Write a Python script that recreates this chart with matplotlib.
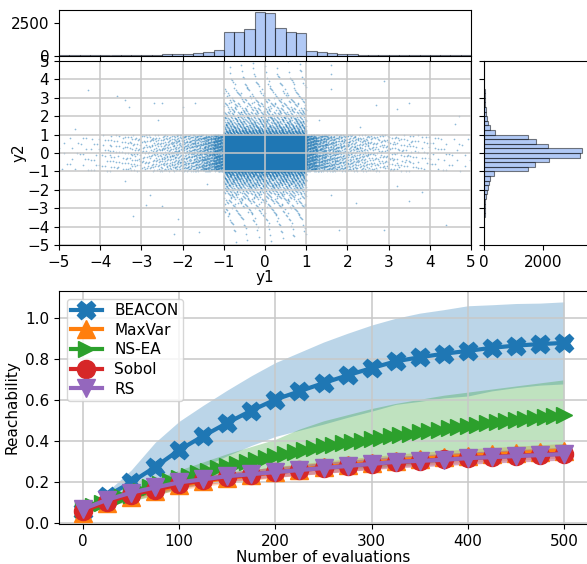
import numpy as np
import matplotlib
matplotlib.use("Agg")
from matplotlib import pyplot as plt

plt.rcParams['font.size'] = 11

# HISTOGRAM COUNTS, bins of 0.25 from -5 to 5
y1_counts = [5, 7, 10, 13, 17, 22, 28, 35, 45, 60, 80, 100, 120, 160, 240, 410,
             1787, 1760, 2040, 3297, 3220, 2117, 1810, 1733,
             380, 230, 160, 120, 95, 75, 55, 45, 35, 28, 22, 17, 13, 10, 7, 5]
y2_counts = [3, 4, 6, 9, 12, 15, 20, 25, 35, 45, 60, 85, 120, 170, 215, 340,
             1492, 1729, 2203, 3254, 3333, 2181, 1774, 1492,
             373, 200, 140, 110, 80, 60, 45, 35, 25, 20, 15, 12, 10, 7, 5, 4]

# scattered points away from both arms
out_y1 = [-4.3, -3.6, -3.4, -3.3, -2.7, -2.5, -2.0, -1.7, -2.6, -2.8, -3.2, -2.9,
          -2.5, -2.1, -1.6, -2.2, 1.6, 1.6, 1.6, 2.9, 2.7, 3.5, 3.2, 4.7, 4.6,
          1.8, 1.6, 2.2, 2.9, 3.5, 4.4, 3.8, 3.2, -3.4, -4.6, 2.3, -1.4, 1.3]
out_y2 = [3.4, 3.1, 2.9, 2.5, 2.7, 2.7, 2.5, 2.7, 1.8, -2.3, -3.4, -2.8,
          -2.9, -3.6, -4.3, -4.4, 4.8, 4.3, 3.5, 3.9, 2.6, 2.7, 2.4, 2.0, 1.6,
          -4.2, -2.3, -2.7, -4.2, -2.6, -3.9, -2.1, -1.8, -1.5, 1.3, 1.4, -1.7, 1.8]

# REACHABILITY CURVES
evals = list(range(0, 501, 25))
evals_nsea = list(range(0, 501, 10))

beacon_mean = [0.06, 0.134, 0.20, 0.275, 0.358, 0.426, 0.49, 0.55, 0.604, 0.644, 0.684,
               0.722, 0.757, 0.79, 0.81, 0.827, 0.841, 0.856, 0.867, 0.874, 0.88]
beacon_std = [0.01, 0.02, 0.06, 0.12, 0.14, 0.15, 0.16, 0.17, 0.18, 0.19, 0.20,
              0.205, 0.21, 0.21, 0.215, 0.215, 0.22, 0.21, 0.205, 0.20, 0.20]
maxvar_mean = [0.05, 0.10, 0.13, 0.16, 0.185, 0.205, 0.22, 0.235, 0.25, 0.262, 0.274,
               0.285, 0.296, 0.306, 0.315, 0.322, 0.33, 0.336, 0.342, 0.348, 0.355]
maxvar_std = [0.01, 0.015, 0.02, 0.02, 0.022, 0.024, 0.025, 0.026, 0.027, 0.028, 0.029,
              0.03, 0.03, 0.031, 0.032, 0.032, 0.033, 0.034, 0.034, 0.035, 0.035]
nsea_mean = [0.07, 0.085, 0.10, 0.115, 0.13, 0.14, 0.16, 0.175, 0.19, 0.205,
             0.22, 0.23, 0.245, 0.255, 0.27, 0.28, 0.29, 0.30, 0.31, 0.32,
             0.33, 0.34, 0.35, 0.357, 0.366, 0.375, 0.382, 0.39, 0.397, 0.404,
             0.41, 0.418, 0.425, 0.432, 0.438, 0.445, 0.451, 0.457, 0.463, 0.469,
             0.475, 0.481, 0.487, 0.493, 0.499, 0.505, 0.51, 0.515, 0.52, 0.525, 0.53]
nsea_lo = [0.06, 0.085, 0.11, 0.135, 0.17, 0.195, 0.215, 0.23, 0.245, 0.255, 0.26,
           0.27, 0.27, 0.28, 0.29, 0.30, 0.31, 0.32, 0.335, 0.35, 0.36]
nsea_hi = [0.08, 0.12, 0.165, 0.215, 0.26, 0.30, 0.34, 0.375, 0.41, 0.46, 0.50,
           0.53, 0.56, 0.585, 0.605, 0.625, 0.64, 0.655, 0.67, 0.685, 0.70]
sobol_mean = [0.06, 0.105, 0.14, 0.165, 0.19, 0.21, 0.225, 0.238, 0.25, 0.26, 0.27,
              0.28, 0.29, 0.298, 0.305, 0.312, 0.318, 0.324, 0.33, 0.335, 0.34]
sobol_std = [0.01, 0.015, 0.018, 0.02, 0.02, 0.022, 0.023, 0.024, 0.025, 0.026, 0.027,
             0.027, 0.028, 0.028, 0.029, 0.029, 0.03, 0.03, 0.03, 0.031, 0.031]
rs_mean = [0.07, 0.115, 0.15, 0.175, 0.20, 0.215, 0.23, 0.24, 0.25, 0.26, 0.27,
           0.28, 0.29, 0.30, 0.305, 0.31, 0.318, 0.323, 0.328, 0.333, 0.338]
rs_std = [0.01, 0.015, 0.018, 0.02, 0.02, 0.021, 0.022, 0.023, 0.024, 0.025, 0.026,
          0.026, 0.027, 0.027, 0.028, 0.028, 0.029, 0.029, 0.03, 0.03, 0.03]

#SCATTER POINTS from the bin counts, spread inside each bin (R2 low discrepancy)
edges = np.linspace(-5, 5, 41)
g = 1.32471795724474602596
step = [0]

def spread(n, x0, x1, ya, yb):
    k = np.arange(step[0], step[0] + n)
    step[0] += n
    u = (0.5 + k / g) % 1
    v = (0.5 + k / g**2) % 1
    return x0 + (x1 - x0) * u, ya + (yb - ya) * v

xs, ys = [], []
central = range(16, 24)
tails = [i for i in range(40) if i not in central]
vert_total = sum(y2_counts[i] for i in tails)
for i in tails:
    a, b = spread(y1_counts[i], edges[i], edges[i + 1], -1, 1)
    xs.append(a); ys.append(b)
for j in tails:
    b, a = spread(y2_counts[j], edges[j], edges[j + 1], -1, 1)
    xs.append(a); ys.append(b)
for i in central:
    a, b = spread(int(y1_counts[i] - vert_total / 8), edges[i], edges[i + 1], -1, 1)
    xs.append(a); ys.append(b)
xs.append(np.array(out_y1)); ys.append(np.array(out_y2))
xs = np.concatenate(xs); ys = np.concatenate(ys)

W, H = 587, 564
fig = plt.figure(figsize=(W / 100, H / 100), dpi=100)

def box(l, t, r, b):
    return [l / W, 1 - b / H, (r - l) / W, (b - t) / H]

ax_top = fig.add_axes(box(59, 10, 471, 55.5))
ax_sc = fig.add_axes(box(59, 61, 471, 245))
ax_rt = fig.add_axes(box(484, 61, 590, 245))
ax = fig.add_axes(box(59, 291, 588, 524))

ax_sc.scatter(xs, ys, s=1.5, color='tab:blue', alpha=0.5, linewidths=0)
ax_sc.set_xlim(-5, 5)
ax_sc.set_ylim(-5, 5)
ax_sc.set_xticks(range(-5, 6))
ax_sc.set_yticks(range(-5, 6))
ax_sc.grid(True, color='#c8c8c8', lw=1.1)
ax_sc.set_xlabel('y1', labelpad=0)
ax_sc.set_ylabel('y2', labelpad=0)

hist_kw = dict(color='cornflowerblue', alpha=0.5, edgecolor='black', linewidth=0.8)
ax_top.bar(edges[:-1], y1_counts, width=0.25, align='edge', **hist_kw)
ax_top.set_xlim(-5, 5)
ax_top.set_ylim(0, 3474)
ax_top.set_xticks(range(-5, 6))
ax_top.set_xticklabels([])
ax_top.set_yticks([0, 2500])

ax_rt.barh(edges[:-1], y2_counts, height=0.25, align='edge', **hist_kw)
ax_rt.set_ylim(-5, 5)
ax_rt.set_xlim(0, 3590)
ax_rt.set_yticks(range(-5, 6))
ax_rt.set_yticklabels([])
ax_rt.set_xticks([0, 2000])

#REACHABILITY
ax.fill_between(evals, np.array(beacon_mean) - beacon_std, np.array(beacon_mean) + beacon_std,
                color='tab:blue', alpha=0.3, linewidth=0)
ax.fill_between(evals, np.array(maxvar_mean) - maxvar_std, np.array(maxvar_mean) + maxvar_std,
                color='tab:orange', alpha=0.3, linewidth=0)
ax.fill_between(evals, nsea_lo, nsea_hi, color='tab:green', alpha=0.3, linewidth=0)
ax.fill_between(evals, np.array(sobol_mean) - sobol_std, np.array(sobol_mean) + sobol_std,
                color='tab:red', alpha=0.3, linewidth=0)
ax.fill_between(evals, np.array(rs_mean) - rs_std, np.array(rs_mean) + rs_std,
                color='tab:purple', alpha=0.3, linewidth=0)

ax.plot(evals, beacon_mean, marker='X', ms=13, lw=3, color='tab:blue', label='BEACON')
ax.plot(evals, maxvar_mean, marker='^', ms=13, lw=3, color='tab:orange', label='MaxVar')
ax.plot(evals_nsea, nsea_mean, marker='>', ms=12, lw=3, color='tab:green', label='NS-EA')
ax.plot(evals, sobol_mean, marker='o', ms=13, lw=3, color='tab:red', label='Sobol')
ax.plot(evals, rs_mean, marker='v', ms=13, lw=3, color='tab:purple', label='RS')

ax.set_xlim(-25, 525)
ax.set_ylim(-0.003, 1.133)
ax.set_yticks([0, 0.2, 0.4, 0.6, 0.8, 1.0])
ax.grid(True, color='#c8c8c8', lw=1.1)
ax.set_xlabel('Number of evaluations', labelpad=1)
ax.set_ylabel('Reachability')
ax.legend(loc='upper left', fontsize=11, labelspacing=0.3, borderpad=0.3)

fig.savefig('out.png', dpi=100)
